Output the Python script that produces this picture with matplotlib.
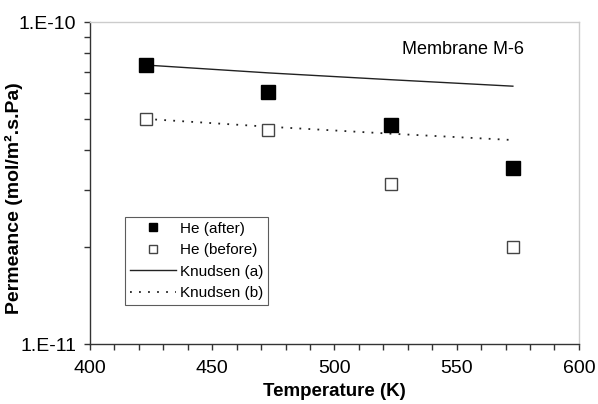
import numpy as np
import matplotlib
matplotlib.use("Agg")
import matplotlib.pyplot as plt
from matplotlib.ticker import LogLocator, NullFormatter, FixedLocator, FuncFormatter, MultipleLocator

plt.rcParams['font.family'] = ['Liberation Sans', 'DejaVu Sans']

# temperatures (K)
temps = [423, 473, 523, 573]
# He permeance after / before (mol/m2.s.Pa)
he_after = [7.35e-11, 6.08e-11, 4.79e-11, 3.53e-11]
he_before = [4.99e-11, 4.62e-11, 3.13e-11, 2.0e-11]
# Knudsen predictions
knudsen_a = [7.35e-11, 6.95e-11, 6.62e-11, 6.32e-11]
knudsen_b = [5.0e-11, 4.73e-11, 4.5e-11, 4.3e-11]

fig = plt.figure(figsize=(5.98, 4.04), dpi=100)
ax = fig.add_subplot(111)
fig.subplots_adjust(left=0.1505, right=0.968, bottom=0.1485, top=0.9455)

ax.plot(temps, he_after, 's', color='black', markersize=9.5, label='He (after)', zorder=3)
ax.plot(temps, he_before, 's', markerfacecolor='white', markeredgecolor='#444444',
        markeredgewidth=1.0, markersize=9, label='He (before)', zorder=3)
ax.plot(temps, knudsen_a, '-', color='#222222', lw=1.0, label='Knudsen (a)')
ax.plot(temps, knudsen_b, linestyle=(0, (1, 4)), color='#222222', lw=1.3, label='Knudsen (b)')

ax.set_yscale('log')
ax.set_xlim(400, 600)
ax.set_ylim(1e-11, 1e-10)

ax.xaxis.set_major_locator(MultipleLocator(50))
ax.xaxis.set_minor_locator(MultipleLocator(10))
ax.yaxis.set_major_locator(FixedLocator([1e-11, 1e-10]))
ax.yaxis.set_major_formatter(FuncFormatter(lambda v, p: "1.E-%d" % round(-np.log10(v))))
ax.yaxis.set_minor_locator(LogLocator(base=10, subs=np.arange(2, 10)))
ax.yaxis.set_minor_formatter(NullFormatter())

ax.tick_params(which='both', direction='out', length=4.5, width=1, color='#333333',
               labelsize=14, top=False, right=False)
ax.tick_params(axis='x', pad=7)
ax.tick_params(axis='y', pad=5.5)

for s in ['left', 'bottom']:
    ax.spines[s].set_color('#333333')
    ax.spines[s].set_linewidth(1.0)
for s in ['top', 'right']:
    ax.spines[s].set_color('#cccccc')
    ax.spines[s].set_linewidth(1.0)

ax.set_xlabel('Temperature (K)', fontsize=13.5, fontweight='bold', labelpad=4)
ax.set_ylabel('Permeance (mol/m².s.Pa)', fontsize=14, fontweight='bold')
ax.yaxis.set_label_coords(-0.137, 0.453)

ax.text(0.763, 0.916, 'Membrane M-6', transform=ax.transAxes, fontsize=13,
        ha='center', va='center')

leg = ax.legend(loc='lower left', bbox_to_anchor=(0.072, 0.121), borderaxespad=0,
                fontsize=11, handlelength=3.0, labelspacing=0.5, markerscale=0.65,
                fancybox=False, frameon=True, handletextpad=0.3, borderpad=0.3)
leg.get_frame().set_edgecolor('#333333')
leg.get_frame().set_linewidth(0.8)

fig.savefig('out.png', dpi=100)
